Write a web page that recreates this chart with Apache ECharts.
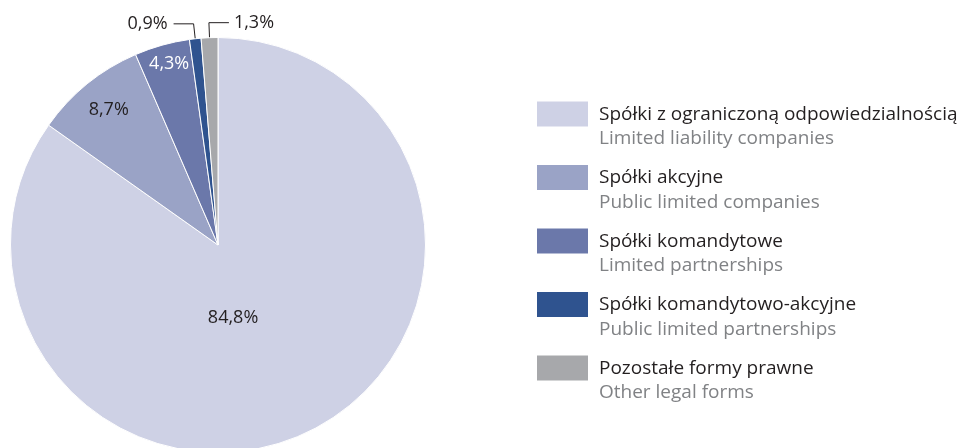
<!DOCTYPE html>
<html>
<head>
<meta charset="utf-8">
<script src="https://cdn.jsdelivr.net/npm/echarts@6/dist/echarts.min.js"></script>
<style>
html,body{margin:0;padding:0;background:#fff;}
#chart{width:965px;height:448px;}
</style>
</head>
<body>
<div id="chart"></div>
<script>
var namesPl = ['Spółki z ograniczoną odpowiedzialnością', 'Spółki akcyjne', 'Spółki komandytowe', 'Spółki komandytowo-akcyjne', 'Pozostałe formy prawne'];
var namesEn = ['Limited liability companies', 'Public limited companies', 'Limited partnerships', 'Public limited partnerships', 'Other legal forms'];
var values = [84.8, 8.7, 4.3, 0.9, 1.3];
var labels = ['84,8%', '8,7%', '4,3%', '0,9%', '1,3%'];

var colors = ['#CED1E5', '#9AA3C6', '#6B78AA', '#2F538F', '#A7A8AB'];
var labelColors = ['#231F20', '#231F20', '#FFFFFF', '#231F20', '#231F20'];
var labelOffsets = [[-34, -22], [-42, -52], [-20, -78], null, null];
var FONT = 'Open Sans';

var chart = echarts.init(document.getElementById('chart'), null, {renderer: 'canvas'});

var data = values.map(function (v, i) {
  var item = {
    name: namesPl[i],
    value: v,
    itemStyle: {color: colors[i]},
    label: {color: labelColors[i], formatter: labels[i]}
  };
  if (labelOffsets[i]) {
    item.label.position = 'inside';
    item.label.offset = labelOffsets[i];
    item.labelLine = {show: false};
  } else {
    item.label.position = 'outside';
  }
  return item;
});

var enByPl = {};
namesPl.forEach(function (n, i) { enByPl[n] = namesEn[i]; });

chart.setOption({
  animation: false,
  backgroundColor: '#ffffff',
  legend: {
    orient: 'vertical',
    left: 535,
    top: 80,
    padding: 0,
    itemWidth: 53,
    itemHeight: 27,
    itemGap: -5,
    icon: 'rect',
    selectedMode: false,
    data: namesPl,
    formatter: function (n) {
      return '{e| }\n{a|' + n + '}\n{b|' + enByPl[n] + '}';
    },
    textStyle: {
      fontFamily: FONT,
      padding: [0, 0, 0, 5],
      rich: {
        e: {fontSize: 19, lineHeight: 25, fontFamily: FONT},
        a: {fontSize: 19, lineHeight: 25, color: '#231F20', fontFamily: FONT},
        b: {fontSize: 19, lineHeight: 24, color: '#808285', fontFamily: FONT}
      }
    }
  },
  series: [{
    type: 'pie',
    center: [218, 245],
    radius: [0, 207.5],
    startAngle: 90,
    clockwise: true,
    avoidLabelOverlap: false,
    itemStyle: {borderColor: '#ffffff', borderWidth: 1},
    label: {
      fontFamily: FONT,
      fontSize: 18,
      color: '#231F20',
      distanceToLabelLine: 6
    },
    labelLine: {
      show: true,
      length: 15,
      length2: 20,
      lineStyle: {color: '#231F20', width: 1}
    },
    emphasis: {disabled: true},
    labelLayout: function (p) {
      if (p.dataIndex === 4 && p.labelLinePoints) {
        var pts = p.labelLinePoints;
        var p0 = pts[0], p1 = pts[1], p2 = pts[2];
        var np2 = [p1[0] + (p1[0] - p2[0]), p2[1]];
        return {
          labelLinePoints: [p0, p1, np2],
          x: np2[0] + 5,
          y: p.labelRect.y + p.labelRect.height / 2,
          align: 'left',
          verticalAlign: 'middle'
        };
      }
      return {};
    },
    data: data
  }]
});
</script>
</body>
</html>
